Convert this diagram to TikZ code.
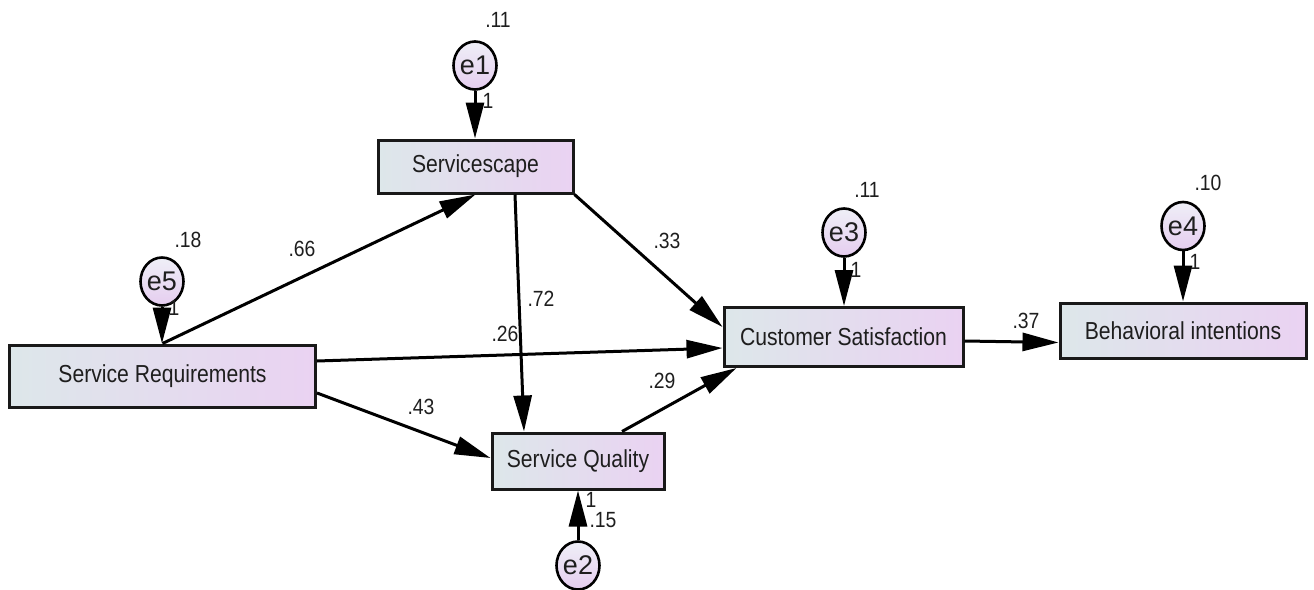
\documentclass[tikz,border=0pt]{standalone}
\usepackage{fontspec}
\setmainfont[FakeStretch=0.86]{Liberation Sans}
\newfontfamily\plainf{Liberation Sans}
\newfontfamily\numf[FakeStretch=0.88]{Liberation Sans}
\usetikzlibrary{arrows.meta,shapes.geometric}
\definecolor{boxL}{HTML}{DDE7EA}
\definecolor{boxR}{HTML}{EAD2F2}
\definecolor{ovT}{HTML}{EFEFF7}
\definecolor{ovB}{HTML}{E5CDEF}
\definecolor{txt}{HTML}{1E1E1E}
\begin{document}
\begin{tikzpicture}[x=1pt,y=-1pt,
  var/.style={draw=black!90, line width=3pt, left color=boxL, right color=boxR,
    inner sep=0pt, text=txt, font=\fontsize{24.6}{28}\selectfont},
  err/.style={ellipse, draw=black, line width=2.6pt, top color=ovT, bottom color=ovB,
    minimum width=43pt, minimum height=48pt, inner sep=0pt, text=txt,
    font=\plainf\fontsize{27}{30}\selectfont},
  conn/.style={line width=3pt, -{Triangle[length=36pt 0 1, width=18pt 0 1]}},
  lab/.style={inner sep=0pt, text=txt, font=\numf\fontsize{22}{24}\selectfont}]
\useasboundingbox (0,0) rectangle (1314,589);

% observed variables
\node[var, minimum width=306pt, minimum height=62pt] (SR) at (162.5,376) {Service Requirements};
\node[var, minimum width=195pt, minimum height=53pt] (SS) at (475.5,166.5) {Servicescape};
\node[var, minimum width=172pt, minimum height=56pt] (SQ) at (578,461) {Service Quality};
\node[var, minimum width=239pt, minimum height=59pt] (CS) at (843.5,337) {Customer Satisfaction};
\node[var, minimum width=246pt, minimum height=55pt] (BI) at (1183,330.5) {Behavioral intentions};

% error terms
\node[err] (e1) at (475,65.5) {e1};
\node[err] (e5) at (162,281.5) {e5};
\node[err] (e2) at (578,565.5) {e2};
\node[err] (e3) at (844,232.5) {e3};
\node[err] (e4) at (1183,226) {e4};

% error paths
\draw[conn] (e1.south) -- (e1.south |- SS.north);
\draw[conn] (e5.south) -- (e5.south |- SR.north);
\draw[conn] (e2.north) -- (e2.north |- SQ.south);
\draw[conn] (e3.south) -- (e3.south |- CS.north);
\draw[conn] (e4.south) -- (e4.south |- BI.north);

% structural paths
\draw[conn] (SR.north) -- (SS.south);
\draw[conn] ([xshift=39.5pt]SS.south) -- ([xshift=-54pt]SQ.north);
\draw[conn] (SS.south east) -- ([yshift=10pt]CS.west);
\draw[conn] ([yshift=15pt]SR.east) -- ([yshift=-11pt]CS.west);
\draw[conn] ([yshift=-17pt]SR.east) -- ([yshift=3pt]SQ.west);
\draw[conn] ([xshift=44pt]SQ.north) -- ([xshift=14pt]CS.south west);
\draw[conn] ([yshift=-4pt]CS.east) -- ([yshift=-12pt]BI.west);

% labels
\node[lab] (v1) at (498,20) {.11};
\node[lab] (w1) at (488,101) {1};
\node[lab] (v5) at (188,240) {.18};
\node[lab] (w5) at (174,308) {1};
\node[lab] (p66) at (302,249) {.66};
\node[lab] (p72) at (541,299) {.72};
\node[lab] (p26) at (505,334) {.26};
\node[lab] (p33) at (667,241) {.33};
\node[lab] (p43) at (421,407) {.43};
\node[lab] (p29) at (662,381) {.29};
\node[lab] (v3) at (867,189.5) {.11};
\node[lab] (w3) at (856,270) {1};
\node[lab] (v4) at (1208,183) {.10};
\node[lab] (w4) at (1195,262) {1};
\node[lab] (p37) at (1026,321) {.37};
\node[lab] (w2) at (591,500) {1};
\node[lab] (v2) at (603,520) {.15};
\end{tikzpicture}
\end{document}
